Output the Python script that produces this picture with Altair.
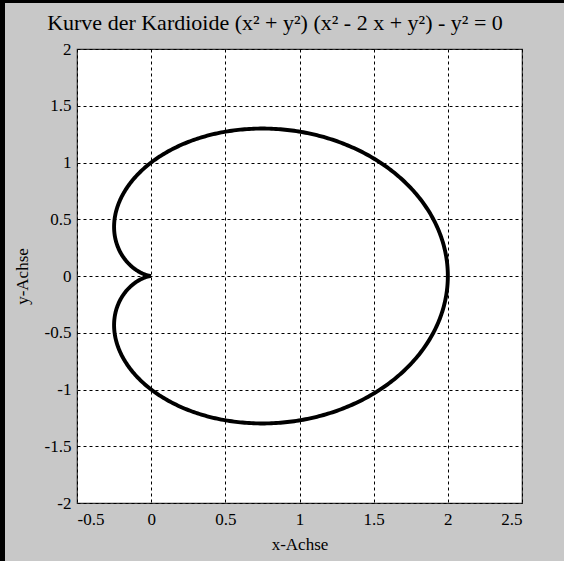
import numpy as np
import pandas as pd
import altair as alt

# Kardioide (x^2 + y^2)(x^2 - 2x + y^2) - y^2 = 0, in polar form r = 1 + cos(t)
t = np.linspace(0, 2 * np.pi, 721)
r = 1 + np.cos(t)
curve = pd.DataFrame({"i": np.arange(t.size), "x": r * np.cos(t), "y": r * np.sin(t)})

x_ticks = [-0.5, 0, 0.5, 1, 1.5, 2, 2.5]
y_ticks = [-2, -1.5, -1, -0.5, 0, 0.5, 1, 1.5, 2]
title_text = "Kurve der Kardioide (x² + y²) (x² - 2 x + y²) - y² = 0"

FONT = "Liberation Serif"
W, H = 445, 454
PAD = {"left": 77, "top": 49, "right": 42, "bottom": 58}

xs = alt.Scale(domain=[-0.5, 2.5], nice=False, zero=False)
ys = alt.Scale(domain=[-2, 2], nice=False, zero=False)

label_expr = "'' + datum.value"

line = alt.Chart(curve).mark_line(color="black", strokeWidth=3.9, clip=True).encode(
    x=alt.X("x:Q", scale=xs, title="x-Achse",
            axis=alt.Axis(values=x_ticks, labelExpr=label_expr, grid=True, ticks=False,
                          labelFont=FONT, labelFontSize=17, labelPadding=8,
                          titleFont=FONT, titleFontSize=17, titlePadding=9)),
    y=alt.Y("y:Q", scale=ys, title="y-Achse",
            axis=alt.Axis(values=y_ticks, labelExpr=label_expr, grid=True, ticks=False,
                          labelFont=FONT, labelFontSize=17, labelPadding=6,
                          titleFont=FONT, titleFontSize=17, titlePadding=13)),
    order="i:Q",
)

title = alt.Chart(pd.DataFrame({"t": [title_text]})).mark_text(
    font=FONT, fontSize=22, color="black", align="center", baseline="alphabetic", clip=False
).encode(text="t:N", x=alt.value(W / 2 - 24.5), y=alt.value(-19))

# figure frame lines along the top and left edges
top_edge = alt.Chart(curve).mark_rule(color="black", strokeWidth=3, clip=False).encode(
    x=alt.value(-PAD["left"]), x2=alt.value(W + PAD["right"]), y=alt.value(-PAD["top"] + 1.5)
)
left_edge = alt.Chart(curve).mark_rule(color="black", strokeWidth=5, clip=False).encode(
    x=alt.value(-PAD["left"] + 2.5), y=alt.value(-PAD["top"]), y2=alt.value(H + PAD["bottom"])
)

chart = (
    alt.layer(line, title, top_edge, left_edge)
    .properties(
        width=W,
        height=H,
        autosize=alt.AutoSizeParams(type="none"),
        padding=PAD,
        background="#c8c8c8",
    )
    .configure_view(fill="white", stroke="#333333", strokeWidth=1.2)
    .configure_axis(
        labelColor="black", titleColor="black", titleFontWeight="normal",
        gridColor="black", gridDash=[3, 3], gridWidth=1, gridOpacity=1,
        domain=False,
    )
)

chart.save("out.html", embed_options={"renderer": "svg", "actions": False})
